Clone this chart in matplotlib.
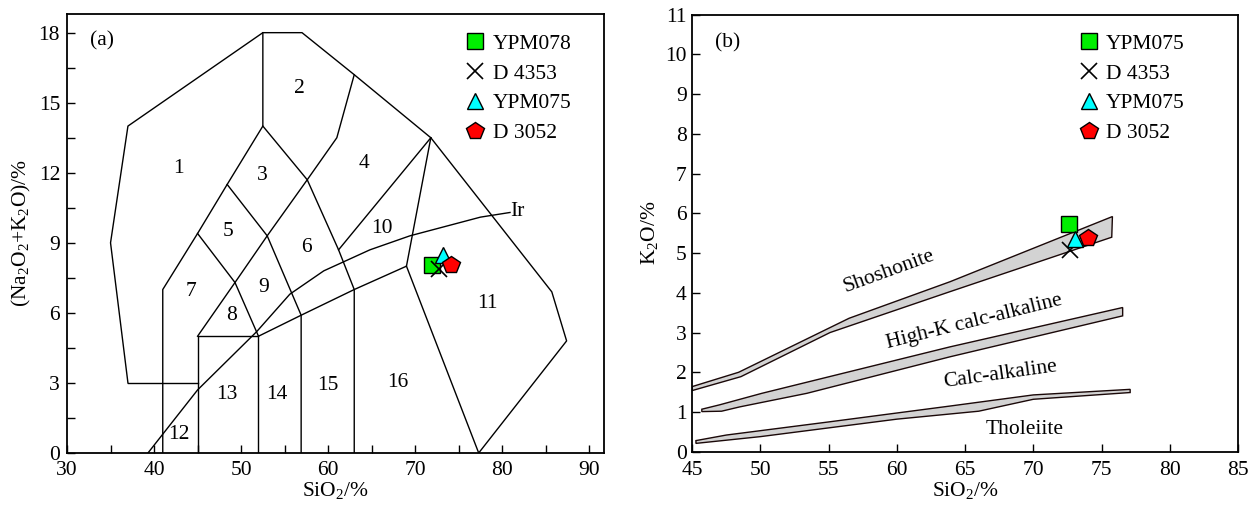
import matplotlib
matplotlib.use("Agg")
import matplotlib.pyplot as plt
from matplotlib.ticker import MultipleLocator

plt.rcParams['font.family'] = ['Liberation Serif', 'DejaVu Serif']
plt.rcParams['mathtext.fontset'] = 'custom'
plt.rcParams['mathtext.rm'] = 'Liberation Serif'
plt.rcParams['font.size'] = 15.5

# ---- (a) TAS diagram: field boundaries (SiO2, Na2O+K2O) ----
outer_x = [37, 35, 37, 52.5, 57, 63, 71.8, 85.7, 87.4, 77.3]
outer_y = [3, 9, 14, 18, 18, 16.2, 13.5, 6.9, 4.8, 0]
tas_lines = [
    ([37, 45], [3, 3]),
    ([41, 41, 45, 48.4, 52.5, 52.5], [0, 7, 9.4, 11.5, 14, 18]),
    ([52.5, 57.6, 61.2, 63, 63], [14, 11.7, 8.7, 7, 0]),
    ([45, 49.3, 53, 57.6, 61, 63], [5, 7.3, 9.3, 11.7, 13.5, 16.2]),
    ([45, 49.3, 52], [9.4, 7.3, 5]),
    ([48.4, 53, 56.9, 56.9], [11.5, 9.3, 5.9, 0]),
    ([45, 45, 52, 52], [0, 5, 5, 0]),
    ([52, 56.9, 63, 69, 71.8], [5, 5.9, 7, 8, 13.5]),
    ([69, 77.3], [8, 0]),
    ([61.2, 71.8], [8.7, 13.5]),
]
ir_x = [39.3, 45, 51.8, 55.6, 59.5, 64.8, 69.4, 77.5, 80.9]
ir_y = [0, 2.7, 5.2, 6.8, 7.8, 8.7, 9.3, 10.1, 10.3]

field_labels = ['1', '2', '3', '4', '5', '6', '7', '8', '9', '10',
                '11', '12', '13', '14', '15', '16']
field_x = [42.8, 56.7, 52.4, 64.1, 48.5, 57.5, 44.3, 48.9, 52.6, 66.2,
           78.3, 42.9, 48.4, 54.1, 60.0, 68.0]
field_y = [12.2, 15.6, 11.9, 12.4, 9.5, 8.8, 6.9, 5.9, 7.1, 9.6,
           6.4, 0.8, 2.5, 2.5, 2.9, 3.0]

# samples (a)
a_names = ['YPM078', 'D 4353', 'YPM075', 'D 3052']
a_sio2 = [71.9, 72.7, 73.15, 74.1]
a_alk = [8.03, 7.9, 8.46, 8.03]

# ---- (b) SiO2-K2O diagram bands ----
sho_upper_x = [45, 48.4, 56.5, 63.9, 75.8]
sho_upper_y = [1.64, 2.0, 3.36, 4.28, 5.92]
sho_lower_x = [75.75, 63.9, 55.1, 48.57, 45]
sho_lower_y = [5.4, 4.03, 3.0, 1.89, 1.54]

hk_upper_x = [45.7, 47.0, 50.1, 63.9, 76.55]
hk_upper_y = [1.07, 1.18, 1.47, 2.64, 3.63]
hk_lower_x = [76.55, 63.9, 53.4, 48.5, 47.15, 45.7]
hk_lower_y = [3.42, 2.39, 1.47, 1.13, 1.02, 1.01]

ca_upper_x = [45.27, 47.5, 55, 63.9, 70, 77.1]
ca_upper_y = [0.28, 0.42, 0.75, 1.15, 1.43, 1.57]
ca_lower_x = [77.1, 70, 66, 60, 50, 45.27]
ca_lower_y = [1.49, 1.32, 1.02, 0.82, 0.38, 0.21]

series_labels = ['Shoshonite', 'High-K calc-alkaline', 'Calc-alkaline', 'Tholeiite']
series_x = [59.4, 65.7, 67.6, 69.4]
series_y = [4.53, 3.26, 1.93, 0.55]
series_rot = [20, 14, 8, 0]

# samples (b)
b_names = ['YPM075', 'D 4353', 'YPM075', 'D 3052']
b_sio2 = [72.6, 72.7, 73.06, 74.0]
b_k2o = [5.72, 5.08, 5.35, 5.37]

marker_styles = [
    dict(marker='s', color='none', markerfacecolor='#00ee00', markeredgecolor='black', markersize=11),
    dict(marker='x', color='none', markeredgecolor='black', markersize=11, markeredgewidth=1.2),
    dict(marker='^', color='none', markerfacecolor='#00ffff', markeredgecolor='black', markersize=11),
    dict(marker='p', color='none', markerfacecolor='#ff0000', markeredgecolor='black', markersize=13),
]

fig = plt.figure(figsize=(12.55, 5.05), dpi=100)
ax1 = fig.add_axes([0.0534, 0.103, 0.4279, 0.8693])
ax2 = fig.add_axes([0.5516, 0.1055, 0.4348, 0.8653])

# panel a
ax1.plot(outer_x, outer_y, color='black', lw=1)
for lx, ly in tas_lines:
    ax1.plot(lx, ly, color='black', lw=1)
ax1.plot(ir_x, ir_y, color='black', lw=1)
ax1.text(80.9, 10.35, 'Ir', ha='left', va='center')
for lab, x, y in zip(field_labels, field_x, field_y):
    ax1.text(x, y, lab, ha='center', va='center')
ax1.text(32.6, 17.65, '(a)', ha='left', va='center')

for name, x, y, st in zip(a_names, a_sio2, a_alk, marker_styles):
    ax1.plot([x], [y], linestyle='none', label=name, zorder=5, **st)

ax1.set_xlim(30, 91.7)
ax1.set_ylim(0, 18.8)
ax1.xaxis.set_major_locator(MultipleLocator(10))
ax1.xaxis.set_minor_locator(MultipleLocator(5))
ax1.yaxis.set_major_locator(MultipleLocator(3))
ax1.yaxis.set_minor_locator(MultipleLocator(1.5))
ax1.tick_params(which='both', direction='in', length=6, width=1)
ax1.tick_params(axis='x', pad=6)
ax1.tick_params(axis='y', pad=5)
ax1.set_xlabel('SiO$\\mathregular{_2}$/%', labelpad=0)
ax1.set_ylabel('(Na$\\mathregular{_2}$O$\\mathregular{_2}$+K$\\mathregular{_2}$O)/%', labelpad=4)
ax1.legend(loc='upper left', bbox_to_anchor=(0.739, 0.955), frameon=False,
           borderpad=0, handlelength=1.0, handletextpad=0.35, labelspacing=0.45,
           borderaxespad=0)

# panel b
band_fill = '#d3d3d3'
band_edge = '#1a0808'
for ux, uy, lx, ly in [(sho_upper_x, sho_upper_y, sho_lower_x, sho_lower_y),
                       (hk_upper_x, hk_upper_y, hk_lower_x, hk_lower_y),
                       (ca_upper_x, ca_upper_y, ca_lower_x, ca_lower_y)]:
    ax2.fill(ux + lx, uy + ly, facecolor=band_fill, edgecolor=band_edge, lw=1)

for lab, x, y, r in zip(series_labels, series_x, series_y, series_rot):
    ax2.text(x, y, lab, ha='center', va='center', rotation=r, rotation_mode='anchor')
ax2.text(47.6, 10.28, '(b)', ha='center', va='center')

for name, x, y, st in zip(b_names, b_sio2, b_k2o, marker_styles):
    ax2.plot([x], [y], linestyle='none', label=name, zorder=5, **st)

ax2.set_xlim(45, 85)
ax2.set_ylim(0, 11)
ax2.xaxis.set_major_locator(MultipleLocator(5))
ax2.yaxis.set_major_locator(MultipleLocator(1))
ax2.tick_params(which='both', direction='in', length=6, width=1)
ax2.tick_params(axis='x', pad=7)
ax2.tick_params(axis='y', pad=4)
ax2.set_xlabel('SiO$\\mathregular{_2}$/%', labelpad=0)
ax2.set_ylabel('K$\\mathregular{_2}$O/%', labelpad=4)
ax2.legend(loc='upper left', bbox_to_anchor=(0.707, 0.9565), frameon=False,
           borderpad=0, handlelength=1.0, handletextpad=0.3, labelspacing=0.45,
           borderaxespad=0)

for ax in (ax1, ax2):
    for sp in ax.spines.values():
        sp.set_linewidth(1.3)

fig.savefig('out.png', dpi=100)
